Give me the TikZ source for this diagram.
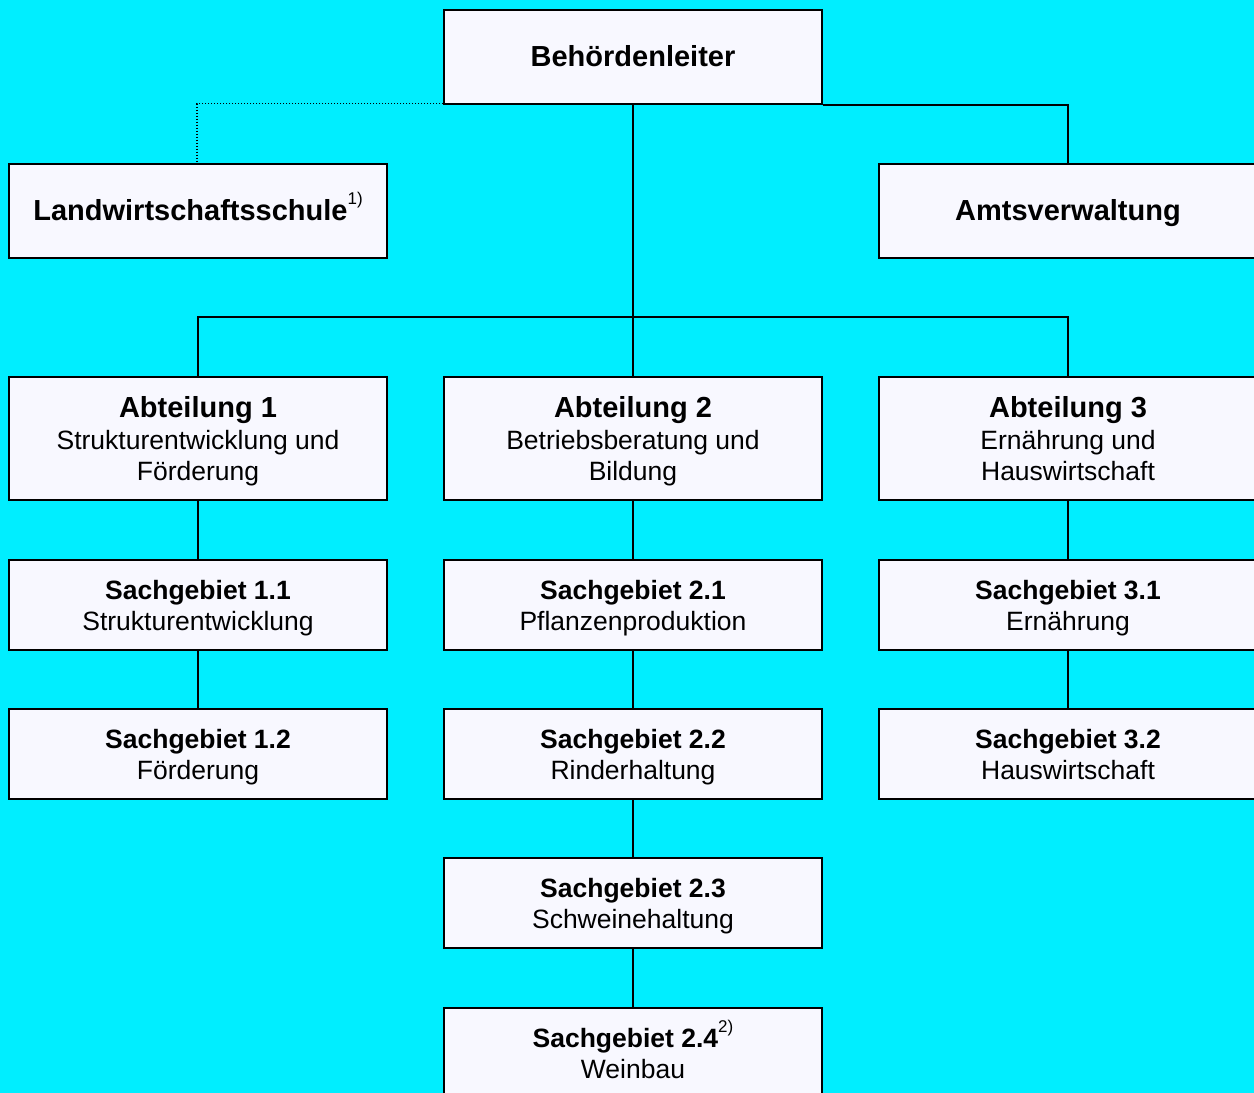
\documentclass[tikz,border=0pt]{standalone}
\usepackage{fontspec}
\setmainfont{Liberation Sans}
\definecolor{bg}{RGB}{0,238,255}
\definecolor{boxfill}{RGB}{248,248,255}
\newcommand\ttlfont{\fontsize{29}{31}\selectfont\bfseries}
\newcommand\supnote[1]{\raisebox{0.55em}{\fontsize{17}{17}\selectfont\mdseries #1}}
% first line of a box: cap-height strut, contents smashed
\newcommand\firstT[1]{\rule{0pt}{20.8pt}\smash{\ttlfont #1}}
\newcommand\firstS[1]{\rule{0pt}{19pt}\smash{\textbf{#1}}}
\newcommand\bxline[1]{\smash{#1}}
\begin{document}
\begin{tikzpicture}[x=1pt,y=-1pt,
  box/.style={draw=black, line width=2pt, fill=boxfill, minimum width=378pt,
    align=center, inner sep=0pt, font=\fontsize{26.5}{31}\selectfont},
  topbox/.style={box, minimum height=94pt},
  abtbox/.style={box, minimum height=123pt},
  sgbox/.style={box, minimum height=90pt},
  conn/.style={draw=black, line width=2pt},
  dotconn/.style={draw=black, line width=1.3pt, dash pattern=on 1.3pt off 1.7pt}]
\useasboundingbox (0,0) rectangle (1254,1093);
\clip (0,0) rectangle (1254,1093);
\fill[bg] (0,0) rectangle (1254,1093);

\coordinate (bar) at (633,317);

% boxes
\node[topbox] (B) at (633,56.5) {\firstT{Behördenleiter}};
\node[topbox] (L) at (198,210.5) {\firstT{Landwirtschaftsschule\supnote{1)}}};
\node[topbox] (A) at (1068,210.5) {\firstT{Amtsverwaltung}};

\node[abtbox] (A1) at (198,438.5) {\firstT{Abteilung 1}\\[1.5pt]\bxline{Strukturentwicklung und}\\\bxline{Förderung}};
\node[abtbox] (A2) at (633,438.5) {\firstT{Abteilung 2}\\[1.5pt]\bxline{Betriebsberatung und}\\\bxline{Bildung}};
\node[abtbox] (A3) at (1068,438.5) {\firstT{Abteilung 3}\\[1.5pt]\bxline{Ernährung und}\\\bxline{Hauswirtschaft}};

\node[sgbox] (S11) at (198,605) {\firstS{Sachgebiet 1.1}\\\bxline{Strukturentwicklung}};
\node[sgbox] (S12) at (198,754) {\firstS{Sachgebiet 1.2}\\\bxline{Förderung}};
\node[sgbox] (S21) at (633,605) {\firstS{Sachgebiet 2.1}\\\bxline{Pflanzenproduktion}};
\node[sgbox] (S22) at (633,754) {\firstS{Sachgebiet 2.2}\\\bxline{Rinderhaltung}};
\node[sgbox] (S23) at (633,903) {\firstS{Sachgebiet 2.3}\\\bxline{Schweinehaltung}};
\node[sgbox, minimum height=91pt] (S24) at (633,1053.5) {\firstS{Sachgebiet 2.4\supnote{2)}}\\\bxline{Weinbau}};
\node[sgbox] (S31) at (1068,605) {\firstS{Sachgebiet 3.1}\\\bxline{Ernährung}};
\node[sgbox] (S32) at (1068,754) {\firstS{Sachgebiet 3.2}\\\bxline{Hauswirtschaft}};

% connectors
\draw[dotconn] ([yshift=1pt]B.south west) -| ([xshift=-1pt]L.north);
\draw[conn] (B.south east) -| (A.north);
\draw[conn] (B.south) -- (A2.north);
\draw[conn] (A1.north) -- (A1.north |- bar) -- (A3.north |- bar) -- (A3.north);
\draw[conn] (A1.south) -- (S11.north);
\draw[conn] (S11.south) -- (S12.north);
\draw[conn] (A2.south) -- (S21.north);
\draw[conn] (S21.south) -- (S22.north);
\draw[conn] (S22.south) -- (S23.north);
\draw[conn] (S23.south) -- (S24.north);
\draw[conn] (A3.south) -- (S31.north);
\draw[conn] (S31.south) -- (S32.north);
\end{tikzpicture}
\end{document}
